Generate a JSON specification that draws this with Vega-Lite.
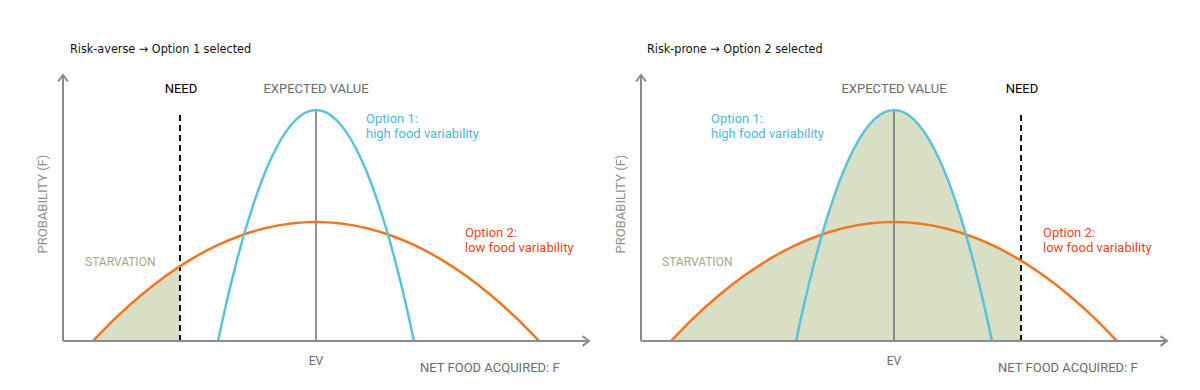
{
  "$schema": "https://vega.github.io/schema/vega-lite/v6.json",
  "padding": 0,
  "spacing": 0,
  "background": "white",
  "config": {"view": {"stroke": null}, "font": "Roboto", "text": {"font": "Roboto"}},
  "datasets": {
    "one": [{}],
    "orange": [{"F":30,"p":0},{"F":41,"p":11.4},{"F":53,"p":23.3},{"F":78,"p":45.7},{"F":103,"p":65.2},{"F":128,"p":81.6},{"F":153,"p":95.1},{"F":178,"p":105.5},{"F":203,"p":113.0},{"F":228,"p":117.5},{"F":253,"p":119},{"F":278,"p":117.5},{"F":303,"p":113.0},{"F":328,"p":105.5},{"F":353,"p":95.1},{"F":378,"p":81.6},{"F":403,"p":65.2},{"F":428,"p":45.7},{"F":453,"p":23.3},{"F":465,"p":11.4},{"F":476,"p":0}],
    "blue": [{"F":155,"p":0},{"F":159,"p":18.5},{"F":163,"p":36.2},{"F":168,"p":57.2},{"F":173,"p":77.1},{"F":183,"p":113.1},{"F":193,"p":144.4},{"F":203,"p":170.9},{"F":213,"p":192.5},{"F":223,"p":209.4},{"F":233,"p":221.4},{"F":243,"p":228.6},{"F":253,"p":231},{"F":263,"p":228.6},{"F":273,"p":221.4},{"F":283,"p":209.4},{"F":293,"p":192.5},{"F":303,"p":170.9},{"F":313,"p":144.4},{"F":323,"p":113.1},{"F":333,"p":77.1},{"F":338,"p":57.2},{"F":343,"p":36.2},{"F":347,"p":18.5},{"F":351,"p":0}],
    "shadeL": [{"F":30,"p":0},{"F":41,"p":11.4},{"F":53,"p":23.3},{"F":78,"p":45.7},{"F":103,"p":65.2},{"F":117,"p":74.7}],
    "shadeR": [{"F":30,"p":0},{"F":41,"p":11.4},{"F":53,"p":23.3},{"F":78,"p":45.7},{"F":103,"p":65.2},{"F":128,"p":81.6},{"F":153,"p":95.1},{"F":178,"p":105.5},{"F":181,"p":106.6},{"F":183,"p":113.1},{"F":193,"p":144.4},{"F":203,"p":170.9},{"F":213,"p":192.5},{"F":223,"p":209.4},{"F":233,"p":221.4},{"F":243,"p":228.6},{"F":253,"p":231},{"F":263,"p":228.6},{"F":273,"p":221.4},{"F":283,"p":209.4},{"F":293,"p":192.5},{"F":303,"p":170.9},{"F":313,"p":144.4},{"F":323,"p":113.1},{"F":325,"p":106.6},{"F":328,"p":105.5},{"F":353,"p":95.1},{"F":378,"p":81.6},{"F":380,"p":80.4}]
  },
  "hconcat": [
    {
      "width": 600,
      "height": 390,
      "data": {"name": "one"},
      "layer": [
        {"data": {"name": "shadeL"}, "mark": {"type": "area", "color": "#d9dfc5", "interpolate": "linear"},
         "encoding": {"x": {"field": "F", "type": "quantitative", "axis": null, "scale": {"domain": [-63, 537], "nice": false, "zero": false}},
                      "y": {"field": "p", "type": "quantitative", "axis": null, "scale": {"domain": [-49, 341], "nice": false, "zero": false}},
                      "y2": {"datum": 0}}},
        {"mark": {"type": "rule", "color": "#707070", "strokeWidth": 1.5},
         "encoding": {"x": {"datum": 253, "type": "quantitative", "axis": null, "scale": {"domain": [-63, 537], "nice": false, "zero": false}},
                      "y": {"datum": 0, "type": "quantitative", "axis": null, "scale": {"domain": [-49, 341], "nice": false, "zero": false}},
                      "y2": {"datum": 231}}},
        {"mark": {"type": "rule", "color": "#111111", "strokeWidth": 2, "strokeDash": [6, 4]},
         "encoding": {"x": {"datum": 117, "type": "quantitative", "axis": null, "scale": {"domain": [-63, 537], "nice": false, "zero": false}},
                      "y": {"datum": 0, "type": "quantitative", "axis": null, "scale": {"domain": [-49, 341], "nice": false, "zero": false}},
                      "y2": {"datum": 229}}},
        {"data": {"name": "orange"}, "mark": {"type": "line", "color": "#ef7622", "strokeWidth": 2.5, "interpolate": "monotone"},
         "encoding": {"x": {"field": "F", "type": "quantitative", "axis": null, "scale": {"domain": [-63, 537], "nice": false, "zero": false}},
                      "y": {"field": "p", "type": "quantitative", "axis": null, "scale": {"domain": [-49, 341], "nice": false, "zero": false}}}},
        {"data": {"name": "blue"}, "mark": {"type": "line", "color": "#5bc2dc", "strokeWidth": 2.5, "interpolate": "monotone"},
         "encoding": {"x": {"field": "F", "type": "quantitative", "axis": null, "scale": {"domain": [-63, 537], "nice": false, "zero": false}},
                      "y": {"field": "p", "type": "quantitative", "axis": null, "scale": {"domain": [-49, 341], "nice": false, "zero": false}}}},
        {"mark": {"type": "rule", "color": "#8c8c8c", "strokeWidth": 2},
         "encoding": {"x": {"datum": 0, "type": "quantitative", "axis": null, "scale": {"domain": [-63, 537], "nice": false, "zero": false}},
                      "x2": {"datum": 526},
                      "y": {"datum": 0, "type": "quantitative", "axis": null, "scale": {"domain": [-49, 341], "nice": false, "zero": false}}}},
        {"mark": {"type": "rule", "color": "#8c8c8c", "strokeWidth": 2},
         "encoding": {"x": {"datum": 0, "type": "quantitative", "axis": null, "scale": {"domain": [-63, 537], "nice": false, "zero": false}},
                      "y": {"datum": 0, "type": "quantitative", "axis": null, "scale": {"domain": [-49, 341], "nice": false, "zero": false}},
                      "y2": {"datum": 266}}},
        {"mark": {"type": "point", "shape": "M -1 -0.75 L 0 0 L -1 0.75", "size": 169, "filled": false, "stroke": "#8c8c8c", "strokeWidth": 2, "opacity": 1},
         "encoding": {"x": {"datum": 526, "type": "quantitative", "axis": null, "scale": {"domain": [-63, 537], "nice": false, "zero": false}},
                      "y": {"datum": 0, "type": "quantitative", "axis": null, "scale": {"domain": [-49, 341], "nice": false, "zero": false}}}},
        {"mark": {"type": "point", "shape": "M -0.75 1 L 0 0 L 0.75 1", "size": 169, "filled": false, "stroke": "#8c8c8c", "strokeWidth": 2, "opacity": 1},
         "encoding": {"x": {"datum": 0, "type": "quantitative", "axis": null, "scale": {"domain": [-63, 537], "nice": false, "zero": false}},
                      "y": {"datum": 266, "type": "quantitative", "axis": null, "scale": {"domain": [-49, 341], "nice": false, "zero": false}}}},
        {"mark": {"type": "text", "text": "Risk-averse → Option 1 selected", "font": "DejaVu Sans Condensed, DejaVu Sans", "align": "left", "baseline": "alphabetic", "fontSize": 12.5, "color": "#111111"},
         "encoding": {"x": {"datum": 7, "type": "quantitative", "axis": null, "scale": {"domain": [-63, 537], "nice": false, "zero": false}},
                      "y": {"datum": 288, "type": "quantitative", "axis": null, "scale": {"domain": [-49, 341], "nice": false, "zero": false}}}},
        {"mark": {"type": "text", "text": "NEED", "align": "center", "baseline": "alphabetic", "fontSize": 13, "color": "#000000"},
         "encoding": {"x": {"datum": 118, "type": "quantitative", "axis": null, "scale": {"domain": [-63, 537], "nice": false, "zero": false}},
                      "y": {"datum": 248, "type": "quantitative", "axis": null, "scale": {"domain": [-49, 341], "nice": false, "zero": false}}}},
        {"mark": {"type": "text", "text": "EXPECTED VALUE", "align": "center", "baseline": "alphabetic", "fontSize": 13, "color": "#6b6b6b"},
         "encoding": {"x": {"datum": 253, "type": "quantitative", "axis": null, "scale": {"domain": [-63, 537], "nice": false, "zero": false}},
                      "y": {"datum": 248, "type": "quantitative", "axis": null, "scale": {"domain": [-49, 341], "nice": false, "zero": false}}}},
        {"mark": {"type": "text", "text": ["Option 1:", "high food variability"], "lineHeight": 14.5, "align": "left", "baseline": "alphabetic", "fontSize": 13, "color": "#4cb8d8"},
         "encoding": {"x": {"datum": 303, "type": "quantitative", "axis": null, "scale": {"domain": [-63, 537], "nice": false, "zero": false}},
                      "y": {"datum": 218, "type": "quantitative", "axis": null, "scale": {"domain": [-49, 341], "nice": false, "zero": false}}}},
        {"mark": {"type": "text", "text": ["Option 2:", "low food variability"], "lineHeight": 14.5, "align": "left", "baseline": "alphabetic", "fontSize": 13, "color": "#e5441d"},
         "encoding": {"x": {"datum": 402, "type": "quantitative", "axis": null, "scale": {"domain": [-63, 537], "nice": false, "zero": false}},
                      "y": {"datum": 104, "type": "quantitative", "axis": null, "scale": {"domain": [-49, 341], "nice": false, "zero": false}}}},
        {"mark": {"type": "text", "text": "STARVATION", "align": "left", "baseline": "alphabetic", "fontSize": 12, "color": "#a5a88a"},
         "encoding": {"x": {"datum": 22, "type": "quantitative", "axis": null, "scale": {"domain": [-63, 537], "nice": false, "zero": false}},
                      "y": {"datum": 75, "type": "quantitative", "axis": null, "scale": {"domain": [-49, 341], "nice": false, "zero": false}}}},
        {"mark": {"type": "text", "text": "EV", "align": "center", "baseline": "alphabetic", "fontSize": 12, "color": "#6b6b6b"},
         "encoding": {"x": {"datum": 253, "type": "quantitative", "axis": null, "scale": {"domain": [-63, 537], "nice": false, "zero": false}},
                      "y": {"datum": -24, "type": "quantitative", "axis": null, "scale": {"domain": [-49, 341], "nice": false, "zero": false}}}},
        {"mark": {"type": "text", "text": "NET FOOD ACQUIRED: F", "align": "left", "baseline": "alphabetic", "fontSize": 13, "color": "#6b6b6b"},
         "encoding": {"x": {"datum": 357, "type": "quantitative", "axis": null, "scale": {"domain": [-63, 537], "nice": false, "zero": false}},
                      "y": {"datum": -30.5, "type": "quantitative", "axis": null, "scale": {"domain": [-49, 341], "nice": false, "zero": false}}}},
        {"mark": {"type": "text", "text": "PROBABILITY (F)", "align": "center", "baseline": "middle", "angle": 270, "fontSize": 13, "color": "#8f8f8f"},
         "encoding": {"x": {"datum": -20, "type": "quantitative", "axis": null, "scale": {"domain": [-63, 537], "nice": false, "zero": false}},
                      "y": {"datum": 137, "type": "quantitative", "axis": null, "scale": {"domain": [-49, 341], "nice": false, "zero": false}}}}
      ]
    },
    {
      "width": 600,
      "height": 390,
      "data": {"name": "one"},
      "layer": [
        {"data": {"name": "shadeR"}, "mark": {"type": "area", "color": "#d9dfc5", "interpolate": "linear"},
         "encoding": {"x": {"field": "F", "type": "quantitative", "axis": null, "scale": {"domain": [-41, 559], "nice": false, "zero": false}},
                      "y": {"field": "p", "type": "quantitative", "axis": null, "scale": {"domain": [-49, 341], "nice": false, "zero": false}},
                      "y2": {"datum": 0}}},
        {"mark": {"type": "rule", "color": "#707070", "strokeWidth": 1.5},
         "encoding": {"x": {"datum": 253, "type": "quantitative", "axis": null, "scale": {"domain": [-41, 559], "nice": false, "zero": false}},
                      "y": {"datum": 0, "type": "quantitative", "axis": null, "scale": {"domain": [-49, 341], "nice": false, "zero": false}},
                      "y2": {"datum": 231}}},
        {"mark": {"type": "rule", "color": "#111111", "strokeWidth": 2, "strokeDash": [6, 4]},
         "encoding": {"x": {"datum": 380, "type": "quantitative", "axis": null, "scale": {"domain": [-41, 559], "nice": false, "zero": false}},
                      "y": {"datum": 0, "type": "quantitative", "axis": null, "scale": {"domain": [-49, 341], "nice": false, "zero": false}},
                      "y2": {"datum": 229}}},
        {"data": {"name": "orange"}, "mark": {"type": "line", "color": "#ef7622", "strokeWidth": 2.5, "interpolate": "monotone"},
         "encoding": {"x": {"field": "F", "type": "quantitative", "axis": null, "scale": {"domain": [-41, 559], "nice": false, "zero": false}},
                      "y": {"field": "p", "type": "quantitative", "axis": null, "scale": {"domain": [-49, 341], "nice": false, "zero": false}}}},
        {"data": {"name": "blue"}, "mark": {"type": "line", "color": "#5bc2dc", "strokeWidth": 2.5, "interpolate": "monotone"},
         "encoding": {"x": {"field": "F", "type": "quantitative", "axis": null, "scale": {"domain": [-41, 559], "nice": false, "zero": false}},
                      "y": {"field": "p", "type": "quantitative", "axis": null, "scale": {"domain": [-49, 341], "nice": false, "zero": false}}}},
        {"mark": {"type": "rule", "color": "#8c8c8c", "strokeWidth": 2},
         "encoding": {"x": {"datum": 0, "type": "quantitative", "axis": null, "scale": {"domain": [-41, 559], "nice": false, "zero": false}},
                      "x2": {"datum": 526},
                      "y": {"datum": 0, "type": "quantitative", "axis": null, "scale": {"domain": [-49, 341], "nice": false, "zero": false}}}},
        {"mark": {"type": "rule", "color": "#8c8c8c", "strokeWidth": 2},
         "encoding": {"x": {"datum": 0, "type": "quantitative", "axis": null, "scale": {"domain": [-41, 559], "nice": false, "zero": false}},
                      "y": {"datum": 0, "type": "quantitative", "axis": null, "scale": {"domain": [-49, 341], "nice": false, "zero": false}},
                      "y2": {"datum": 266}}},
        {"mark": {"type": "point", "shape": "M -1 -0.75 L 0 0 L -1 0.75", "size": 169, "filled": false, "stroke": "#8c8c8c", "strokeWidth": 2, "opacity": 1},
         "encoding": {"x": {"datum": 526, "type": "quantitative", "axis": null, "scale": {"domain": [-41, 559], "nice": false, "zero": false}},
                      "y": {"datum": 0, "type": "quantitative", "axis": null, "scale": {"domain": [-49, 341], "nice": false, "zero": false}}}},
        {"mark": {"type": "point", "shape": "M -0.75 1 L 0 0 L 0.75 1", "size": 169, "filled": false, "stroke": "#8c8c8c", "strokeWidth": 2, "opacity": 1},
         "encoding": {"x": {"datum": 0, "type": "quantitative", "axis": null, "scale": {"domain": [-41, 559], "nice": false, "zero": false}},
                      "y": {"datum": 266, "type": "quantitative", "axis": null, "scale": {"domain": [-49, 341], "nice": false, "zero": false}}}},
        {"mark": {"type": "text", "text": "Risk-prone → Option 2 selected", "font": "DejaVu Sans Condensed, DejaVu Sans", "align": "left", "baseline": "alphabetic", "fontSize": 12.5, "color": "#111111"},
         "encoding": {"x": {"datum": 6, "type": "quantitative", "axis": null, "scale": {"domain": [-41, 559], "nice": false, "zero": false}},
                      "y": {"datum": 288, "type": "quantitative", "axis": null, "scale": {"domain": [-49, 341], "nice": false, "zero": false}}}},
        {"mark": {"type": "text", "text": "NEED", "align": "center", "baseline": "alphabetic", "fontSize": 13, "color": "#000000"},
         "encoding": {"x": {"datum": 381, "type": "quantitative", "axis": null, "scale": {"domain": [-41, 559], "nice": false, "zero": false}},
                      "y": {"datum": 248, "type": "quantitative", "axis": null, "scale": {"domain": [-49, 341], "nice": false, "zero": false}}}},
        {"mark": {"type": "text", "text": "EXPECTED VALUE", "align": "center", "baseline": "alphabetic", "fontSize": 13, "color": "#6b6b6b"},
         "encoding": {"x": {"datum": 253, "type": "quantitative", "axis": null, "scale": {"domain": [-41, 559], "nice": false, "zero": false}},
                      "y": {"datum": 248, "type": "quantitative", "axis": null, "scale": {"domain": [-49, 341], "nice": false, "zero": false}}}},
        {"mark": {"type": "text", "text": ["Option 1:", "high food variability"], "lineHeight": 14.5, "align": "left", "baseline": "alphabetic", "fontSize": 13, "color": "#4cb8d8"},
         "encoding": {"x": {"datum": 70, "type": "quantitative", "axis": null, "scale": {"domain": [-41, 559], "nice": false, "zero": false}},
                      "y": {"datum": 218, "type": "quantitative", "axis": null, "scale": {"domain": [-49, 341], "nice": false, "zero": false}}}},
        {"mark": {"type": "text", "text": ["Option 2:", "low food variability"], "lineHeight": 14.5, "align": "left", "baseline": "alphabetic", "fontSize": 13, "color": "#e5441d"},
         "encoding": {"x": {"datum": 402, "type": "quantitative", "axis": null, "scale": {"domain": [-41, 559], "nice": false, "zero": false}},
                      "y": {"datum": 104, "type": "quantitative", "axis": null, "scale": {"domain": [-49, 341], "nice": false, "zero": false}}}},
        {"mark": {"type": "text", "text": "STARVATION", "align": "left", "baseline": "alphabetic", "fontSize": 12, "color": "#a5a88a"},
         "encoding": {"x": {"datum": 21, "type": "quantitative", "axis": null, "scale": {"domain": [-41, 559], "nice": false, "zero": false}},
                      "y": {"datum": 75, "type": "quantitative", "axis": null, "scale": {"domain": [-49, 341], "nice": false, "zero": false}}}},
        {"mark": {"type": "text", "text": "EV", "align": "center", "baseline": "alphabetic", "fontSize": 12, "color": "#6b6b6b"},
         "encoding": {"x": {"datum": 253, "type": "quantitative", "axis": null, "scale": {"domain": [-41, 559], "nice": false, "zero": false}},
                      "y": {"datum": -24, "type": "quantitative", "axis": null, "scale": {"domain": [-49, 341], "nice": false, "zero": false}}}},
        {"mark": {"type": "text", "text": "NET FOOD ACQUIRED: F", "align": "left", "baseline": "alphabetic", "fontSize": 13, "color": "#6b6b6b"},
         "encoding": {"x": {"datum": 357, "type": "quantitative", "axis": null, "scale": {"domain": [-41, 559], "nice": false, "zero": false}},
                      "y": {"datum": -30.5, "type": "quantitative", "axis": null, "scale": {"domain": [-49, 341], "nice": false, "zero": false}}}},
        {"mark": {"type": "text", "text": "PROBABILITY (F)", "align": "center", "baseline": "middle", "angle": 270, "fontSize": 13, "color": "#8f8f8f"},
         "encoding": {"x": {"datum": -20, "type": "quantitative", "axis": null, "scale": {"domain": [-41, 559], "nice": false, "zero": false}},
                      "y": {"datum": 137, "type": "quantitative", "axis": null, "scale": {"domain": [-49, 341], "nice": false, "zero": false}}}}
      ]
    }
  ]
}
